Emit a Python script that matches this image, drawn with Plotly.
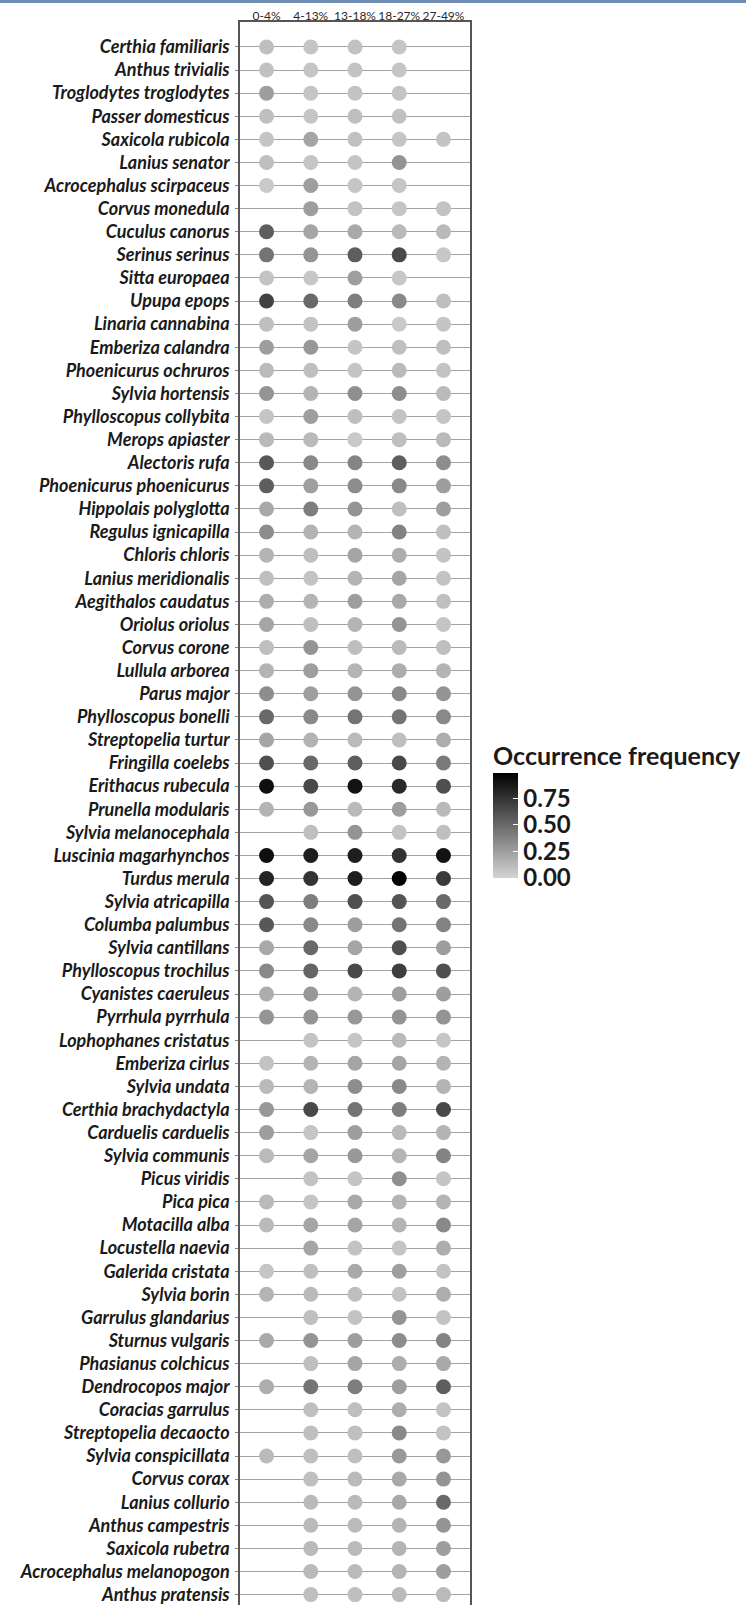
import plotly.graph_objects as go

# Landscape-heterogeneity classes (columns)
classes = ["0-4%", "4-13%", "13-18%", "18-27%", "27-49%"]

species = [
    "Certhia familiaris", "Anthus trivialis", "Troglodytes troglodytes", "Passer domesticus",
    "Saxicola rubicola", "Lanius senator", "Acrocephalus scirpaceus", "Corvus monedula",
    "Cuculus canorus", "Serinus serinus", "Sitta europaea", "Upupa epops",
    "Linaria cannabina", "Emberiza calandra", "Phoenicurus ochruros", "Sylvia hortensis",
    "Phylloscopus collybita", "Merops apiaster", "Alectoris rufa", "Phoenicurus phoenicurus",
    "Hippolais polyglotta", "Regulus ignicapilla", "Chloris chloris", "Lanius meridionalis",
    "Aegithalos caudatus", "Oriolus oriolus", "Corvus corone", "Lullula arborea",
    "Parus major", "Phylloscopus bonelli", "Streptopelia turtur", "Fringilla coelebs",
    "Erithacus rubecula", "Prunella modularis", "Sylvia melanocephala", "Luscinia magarhynchos",
    "Turdus merula", "Sylvia atricapilla", "Columba palumbus", "Sylvia cantillans",
    "Phylloscopus trochilus", "Cyanistes caeruleus", "Pyrrhula pyrrhula", "Lophophanes cristatus",
    "Emberiza cirlus", "Sylvia undata", "Certhia brachydactyla", "Carduelis carduelis",
    "Sylvia communis", "Picus viridis", "Pica pica", "Motacilla alba",
    "Locustella naevia", "Galerida cristata", "Sylvia borin", "Garrulus glandarius",
    "Sturnus vulgaris", "Phasianus colchicus", "Dendrocopos major", "Coracias garrulus",
    "Streptopelia decaocto", "Sylvia conspicillata", "Corvus corax", "Lanius collurio",
    "Anthus campestris", "Saxicola rubetra", "Acrocephalus melanopogon", "Anthus pratensis",
]

# Occurrence frequency per class (None = species not recorded in that class)
freq_0_4 = [
    0.10, 0.09, 0.25, 0.10, 0.07, 0.10, 0.05, None, 0.55, 0.45, 0.08, 0.68,
    0.10, 0.25, 0.12, 0.30, 0.07, 0.12, 0.58, 0.55, 0.20, 0.33, 0.15, 0.10,
    0.18, 0.22, 0.10, 0.15, 0.33, 0.50, 0.22, 0.62, 0.92, 0.15, None, 0.92,
    0.82, 0.60, 0.58, 0.20, 0.35, 0.18, 0.30, None, 0.08, 0.12, 0.28, 0.25,
    0.12, None, 0.12, 0.12, None, 0.07, 0.15, None, 0.20, None, 0.18, None,
    None, 0.12, None, None, None, None, None, None,
]
freq_4_13 = [
    0.07, 0.07, 0.07, 0.07, 0.22, 0.07, 0.25, 0.25, 0.22, 0.30, 0.06, 0.50,
    0.08, 0.28, 0.10, 0.15, 0.25, 0.12, 0.35, 0.25, 0.40, 0.15, 0.10, 0.08,
    0.15, 0.10, 0.30, 0.25, 0.25, 0.35, 0.15, 0.50, 0.65, 0.28, 0.10, 0.85,
    0.75, 0.40, 0.35, 0.50, 0.52, 0.28, 0.30, 0.08, 0.15, 0.15, 0.65, 0.07,
    0.22, 0.08, 0.07, 0.22, 0.22, 0.10, 0.12, 0.10, 0.30, 0.10, 0.45, 0.10,
    0.10, 0.10, 0.10, 0.12, 0.12, 0.12, 0.12, 0.10,
]
freq_13_18 = [
    0.09, 0.08, 0.08, 0.10, 0.09, 0.07, 0.07, 0.08, 0.20, 0.55, 0.25, 0.40,
    0.25, 0.07, 0.07, 0.32, 0.10, 0.05, 0.37, 0.33, 0.30, 0.15, 0.22, 0.15,
    0.25, 0.15, 0.10, 0.15, 0.30, 0.45, 0.12, 0.55, 0.90, 0.12, 0.30, 0.85,
    0.85, 0.62, 0.25, 0.22, 0.65, 0.15, 0.28, 0.07, 0.22, 0.33, 0.45, 0.25,
    0.28, 0.07, 0.20, 0.22, 0.08, 0.20, 0.10, 0.08, 0.25, 0.22, 0.40, 0.10,
    0.10, 0.10, 0.12, 0.12, 0.12, 0.12, 0.12, 0.10,
]
freq_18_27 = [
    0.07, 0.07, 0.08, 0.09, 0.07, 0.30, 0.07, 0.07, 0.12, 0.65, 0.06, 0.35,
    0.05, 0.10, 0.12, 0.33, 0.08, 0.10, 0.55, 0.35, 0.10, 0.38, 0.18, 0.22,
    0.20, 0.30, 0.12, 0.18, 0.35, 0.45, 0.10, 0.65, 0.80, 0.25, 0.08, 0.75,
    0.98, 0.60, 0.45, 0.62, 0.70, 0.25, 0.30, 0.12, 0.22, 0.35, 0.40, 0.12,
    0.15, 0.32, 0.15, 0.15, 0.07, 0.25, 0.08, 0.30, 0.33, 0.18, 0.25, 0.18,
    0.35, 0.28, 0.20, 0.20, 0.15, 0.15, 0.15, 0.12,
]
freq_27_49 = [
    None, None, None, None, 0.08, None, None, 0.08, 0.12, 0.06, None, 0.10,
    0.07, 0.10, 0.08, 0.12, 0.07, 0.12, 0.33, 0.25, 0.25, 0.10, 0.08, 0.08,
    0.10, 0.07, 0.10, 0.15, 0.30, 0.35, 0.18, 0.42, 0.62, 0.12, 0.10, 0.90,
    0.72, 0.50, 0.38, 0.25, 0.62, 0.25, 0.30, 0.07, 0.15, 0.15, 0.65, 0.15,
    0.38, 0.07, 0.15, 0.35, 0.18, 0.08, 0.18, 0.08, 0.38, 0.20, 0.55, 0.08,
    0.08, 0.28, 0.30, 0.50, 0.30, 0.25, 0.25, 0.12,
]

columns = [freq_0_4, freq_4_13, freq_13_18, freq_18_27, freq_27_49]

# Long-format points
xs, ys, cs = [], [], []
for ci, col in enumerate(columns):
    for si, v in enumerate(col):
        if v is not None:
            xs.append(ci)
            ys.append(si)
            cs.append(v)

W, H = 746, 1605
ML, MR, MT, MB = 240, 276, 22, 0
PW, PH = W - ML - MR, H - MT - MB


def paper_x(px):
    return (px - ML) / PW


def paper_y(py):
    return (H - MB - py) / PH


font_family = "Lato, 'Open Sans', sans-serif"

fig = go.Figure(
    go.Scatter(
        x=xs,
        y=ys,
        mode="markers",
        marker=dict(
            size=15,
            color=cs,
            cmin=0,
            cmax=0.99,
            colorscale=[[0, "#d4d4d4"], [1, "#000000"]],
            line=dict(width=0),
            colorbar=dict(
                thickness=25,
                thicknessmode="pixels",
                len=105,
                lenmode="pixels",
                xref="container",
                x=493 / W,
                xanchor="left",
                yref="container",
                y=1 - 837 / H,
                yanchor="middle",
                xpad=0,
                ypad=0,
                outlinewidth=0,
                tickvals=[0, 0.25, 0.5, 0.75],
                ticktext=["0.00", "0.25", "0.50", "0.75"],
                ticks="inside",
                ticklen=5,
                tickwidth=1,
                tickcolor="white",
                tickfont=dict(family=font_family, size=24, color="#1a1a1a", weight="bold"),
                title=dict(text=""),
            ),
        ),
        hoverinfo="skip",
        showlegend=False,
    )
)

n = len(species)
fig.update_yaxes(
    range=[n - 1 + 0.45, -1.08],
    tickmode="array",
    tickvals=list(range(n)),
    ticktext=species,
    tickfont=dict(family=font_family, size=18, color="#1a1a1a", weight="bold", style="italic"),
    ticks="outside",
    ticklen=3,
    tickcolor="#888888",
    ticklabelstandoff=2,
    showgrid=True,
    gridcolor="#a3a3a3",
    gridwidth=1.4,
    zeroline=False,
    showline=True,
    mirror=True,
    linecolor="#555555",
    linewidth=1.5,
)
fig.update_xaxes(
    side="top",
    range=[-0.6, 4.6],
    tickmode="array",
    tickvals=list(range(len(classes))),
    ticktext=classes,
    tickangle=0,
    tickfont=dict(family=font_family, size=12, color="#2a2a2a"),
    ticks="",
    ticklabelstandoff=-5,
    showgrid=False,
    zeroline=False,
    showline=True,
    mirror=True,
    linecolor="#555555",
    linewidth=1.5,
)

fig.add_annotation(
    text="Occurrence frequency",
    xref="paper",
    yref="paper",
    x=paper_x(491),
    y=paper_y(755),
    xanchor="left",
    yanchor="middle",
    showarrow=False,
    font=dict(family=font_family, size=25, color="#1a1a1a", weight="bold"),
)

# Thin rule along the top of the page
fig.add_shape(
    type="rect",
    xref="paper",
    yref="paper",
    x0=paper_x(0),
    x1=paper_x(W),
    y0=paper_y(3),
    y1=paper_y(0),
    line=dict(width=0),
    fillcolor="#6f8db4",
    layer="above",
)

fig.update_layout(
    width=W,
    height=H,
    margin=dict(l=ML, r=MR, t=MT, b=MB, autoexpand=False),
    paper_bgcolor="white",
    plot_bgcolor="white",
    font=dict(family=font_family),
)

fig.write_html("out.html")
